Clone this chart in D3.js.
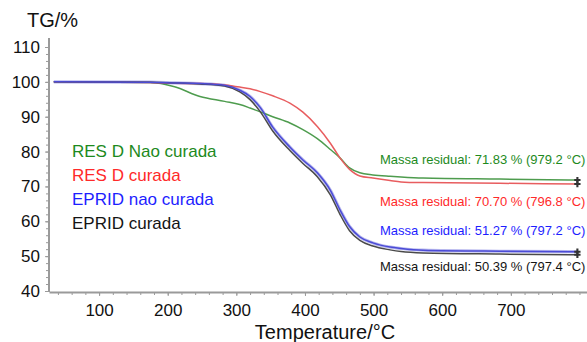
<!DOCTYPE html>
<html>
<head>
<meta charset="utf-8">
<script src="https://cdn.jsdelivr.net/npm/d3@7"></script>
<style>
    body { margin: 0; background: #fff; }
    svg { font-family: "Liberation Sans", Arial, Helvetica, sans-serif; }
    .axis path, .axis line { stroke: #9a9a9a; }
    .axis text { fill: #111; font-size: 17px; }
</style>
</head>
<body>
<div id="chart"></div>
<script>
// temperature grid (°C) shared by the four TG curves
const temperatures = [34, 174, 210, 247, 283, 305, 320, 335, 353, 378, 397, 418, 437, 451, 465, 480, 499, 524, 540, 572, 684, 797];

const resDNaoCurada  = [100, 99.8, 98.6, 95.8, 94.4, 93.5, 92.5, 91.4, 90.0, 88.2, 86.3, 83.7, 80.6, 78.2, 75.3, 73.9, 73.3, 72.9, 72.7, 72.4, 72.1, 71.83];
const resDCurada     = [100, 99.8, 99.6, 99.5, 99.1, 98.5, 98.0, 97.2, 96.0, 93.9, 91.3, 87.2, 82.4, 78.2, 74.9, 73.0, 72.4, 71.7, 71.3, 71.1, 70.9, 70.70];
const epridNaoCurada = [100, 99.9, 99.7, 99.5, 99.0, 97.6, 95.8, 92.6, 87.0, 81.3, 77.6, 73.9, 68.9, 63.3, 58.5, 55.5, 53.8, 52.6, 52.2, 51.7, 51.4, 51.27];
const epridCurada    = [100, 99.9, 99.7, 99.4, 98.8, 97.1, 94.9, 91.4, 85.9, 80.3, 76.6, 72.8, 67.6, 62.0, 57.3, 54.5, 52.9, 51.8, 51.3, 50.9, 50.6, 50.39];

const seriesNames = ["RES D Nao curada", "RES D curada", "EPRID nao curada", "EPRID curada"];
const residualLabels = [
    "Massa residual: 71.83 % (979.2 °C)",
    "Massa residual: 70.70 % (796.8 °C)",
    "Massa residual: 51.27 % (797.2 °C)",
    "Massa residual: 50.39 % (797.4 °C)"
];

const xTicks = [100, 200, 300, 400, 500, 600, 700];
const yTicks = [40, 50, 60, 70, 80, 90, 100, 110];

const width = 587, height = 342;

const lineColors = ["#4e9c4e", "#e85d5f", "#4b4bd6", "#4a4a4a"];
const textColors = ["#1d8a1d", "#ff2a2a", "#1e1eff", "#141414"];

const x = d3.scaleLinear().domain([27, 811]).range([49, 587]);
const y = d3.scaleLinear().domain([40, 110]).range([291, 47]);

const svg = d3.select("#chart").append("svg")
    .attr("width", width)
    .attr("height", height);

// minor ticks
svg.append("g")
    .attr("class", "axis")
    .attr("transform", `translate(0, ${y(40) + 1})`)
    .call(d3.axisBottom(x).tickValues(d3.range(40, 811, 20)).tickSize(3).tickFormat("").tickSizeOuter(0))
    .call(g => g.select(".domain").remove());

svg.append("g")
    .attr("class", "axis")
    .attr("transform", `translate(${x(27)}, 0)`)
    .call(d3.axisLeft(y).tickValues(d3.range(42, 112, 2)).tickSize(3).tickFormat("").tickSizeOuter(0))
    .call(g => g.select(".domain").remove());

// main axes
const xAxis = svg.append("g")
    .attr("class", "axis")
    .attr("transform", `translate(0, ${y(40) + 1})`)
    .call(d3.axisBottom(x).tickValues(xTicks).tickSize(4).tickPadding(8).tickSizeOuter(0));
xAxis.select(".domain").attr("stroke-width", 2);

const yAxis = svg.append("g")
    .attr("class", "axis")
    .attr("transform", `translate(${x(27)}, 0)`)
    .call(d3.axisLeft(y).tickValues(yTicks).tickSize(4).tickPadding(5).tickSizeOuter(0));
yAxis.select(".domain").attr("stroke-width", 2).attr("d", `M0,38V${y(40) + 1}`);

// axis titles
svg.append("text")
    .attr("x", 27)
    .attr("y", 27)
    .style("font-size", "20px")
    .style("fill", "#111")
    .text("TG/%");

svg.append("text")
    .attr("x", 325)
    .attr("y", 339)
    .style("font-size", "20px")
    .style("fill", "#111")
    .style("text-anchor", "middle")
    .text("Temperature/°C");

// curves
const allSeries = [resDNaoCurada, resDCurada, epridNaoCurada, epridCurada];
const line = d3.line()
    .x((d, i) => x(temperatures[i]))
    .y(d => y(d))
    .curve(d3.curveMonotoneX);

const drawOrder = [0, 1, 3, 2];

svg.append("path")
    .attr("d", line(epridNaoCurada))
    .attr("fill", "none")
    .attr("stroke", "#b8b8ee")
    .attr("stroke-width", 3.2);

drawOrder.forEach(i => {
    svg.append("path")
        .attr("d", line(allSeries[i]))
        .attr("fill", "none")
        .attr("stroke", lineColors[i])
        .attr("stroke-width", 1.5);
});

// end markers
allSeries.forEach(values => {
    const last = values.length - 1;
    svg.append("path")
        .attr("d", d3.symbol(d3.symbolCross, 22)())
        .attr("transform", `translate(${x(temperatures[last])}, ${y(values[last])})`)
        .attr("fill", "#333");
});

// legend
seriesNames.forEach((name, i) => {
    svg.append("text")
        .attr("x", 72)
        .attr("y", 157 + i * 24)
        .style("font-size", "17px")
        .style("fill", textColors[i])
        .text(name);
});

// residual mass annotations
const labelBaselines = [164, 206, 235, 271];
residualLabels.forEach((label, i) => {
    svg.append("text")
        .attr("x", 380)
        .attr("y", labelBaselines[i])
        .style("font-size", "13px")
        .style("fill", textColors[i])
        .text(label);
});
</script>
</body>
</html>
